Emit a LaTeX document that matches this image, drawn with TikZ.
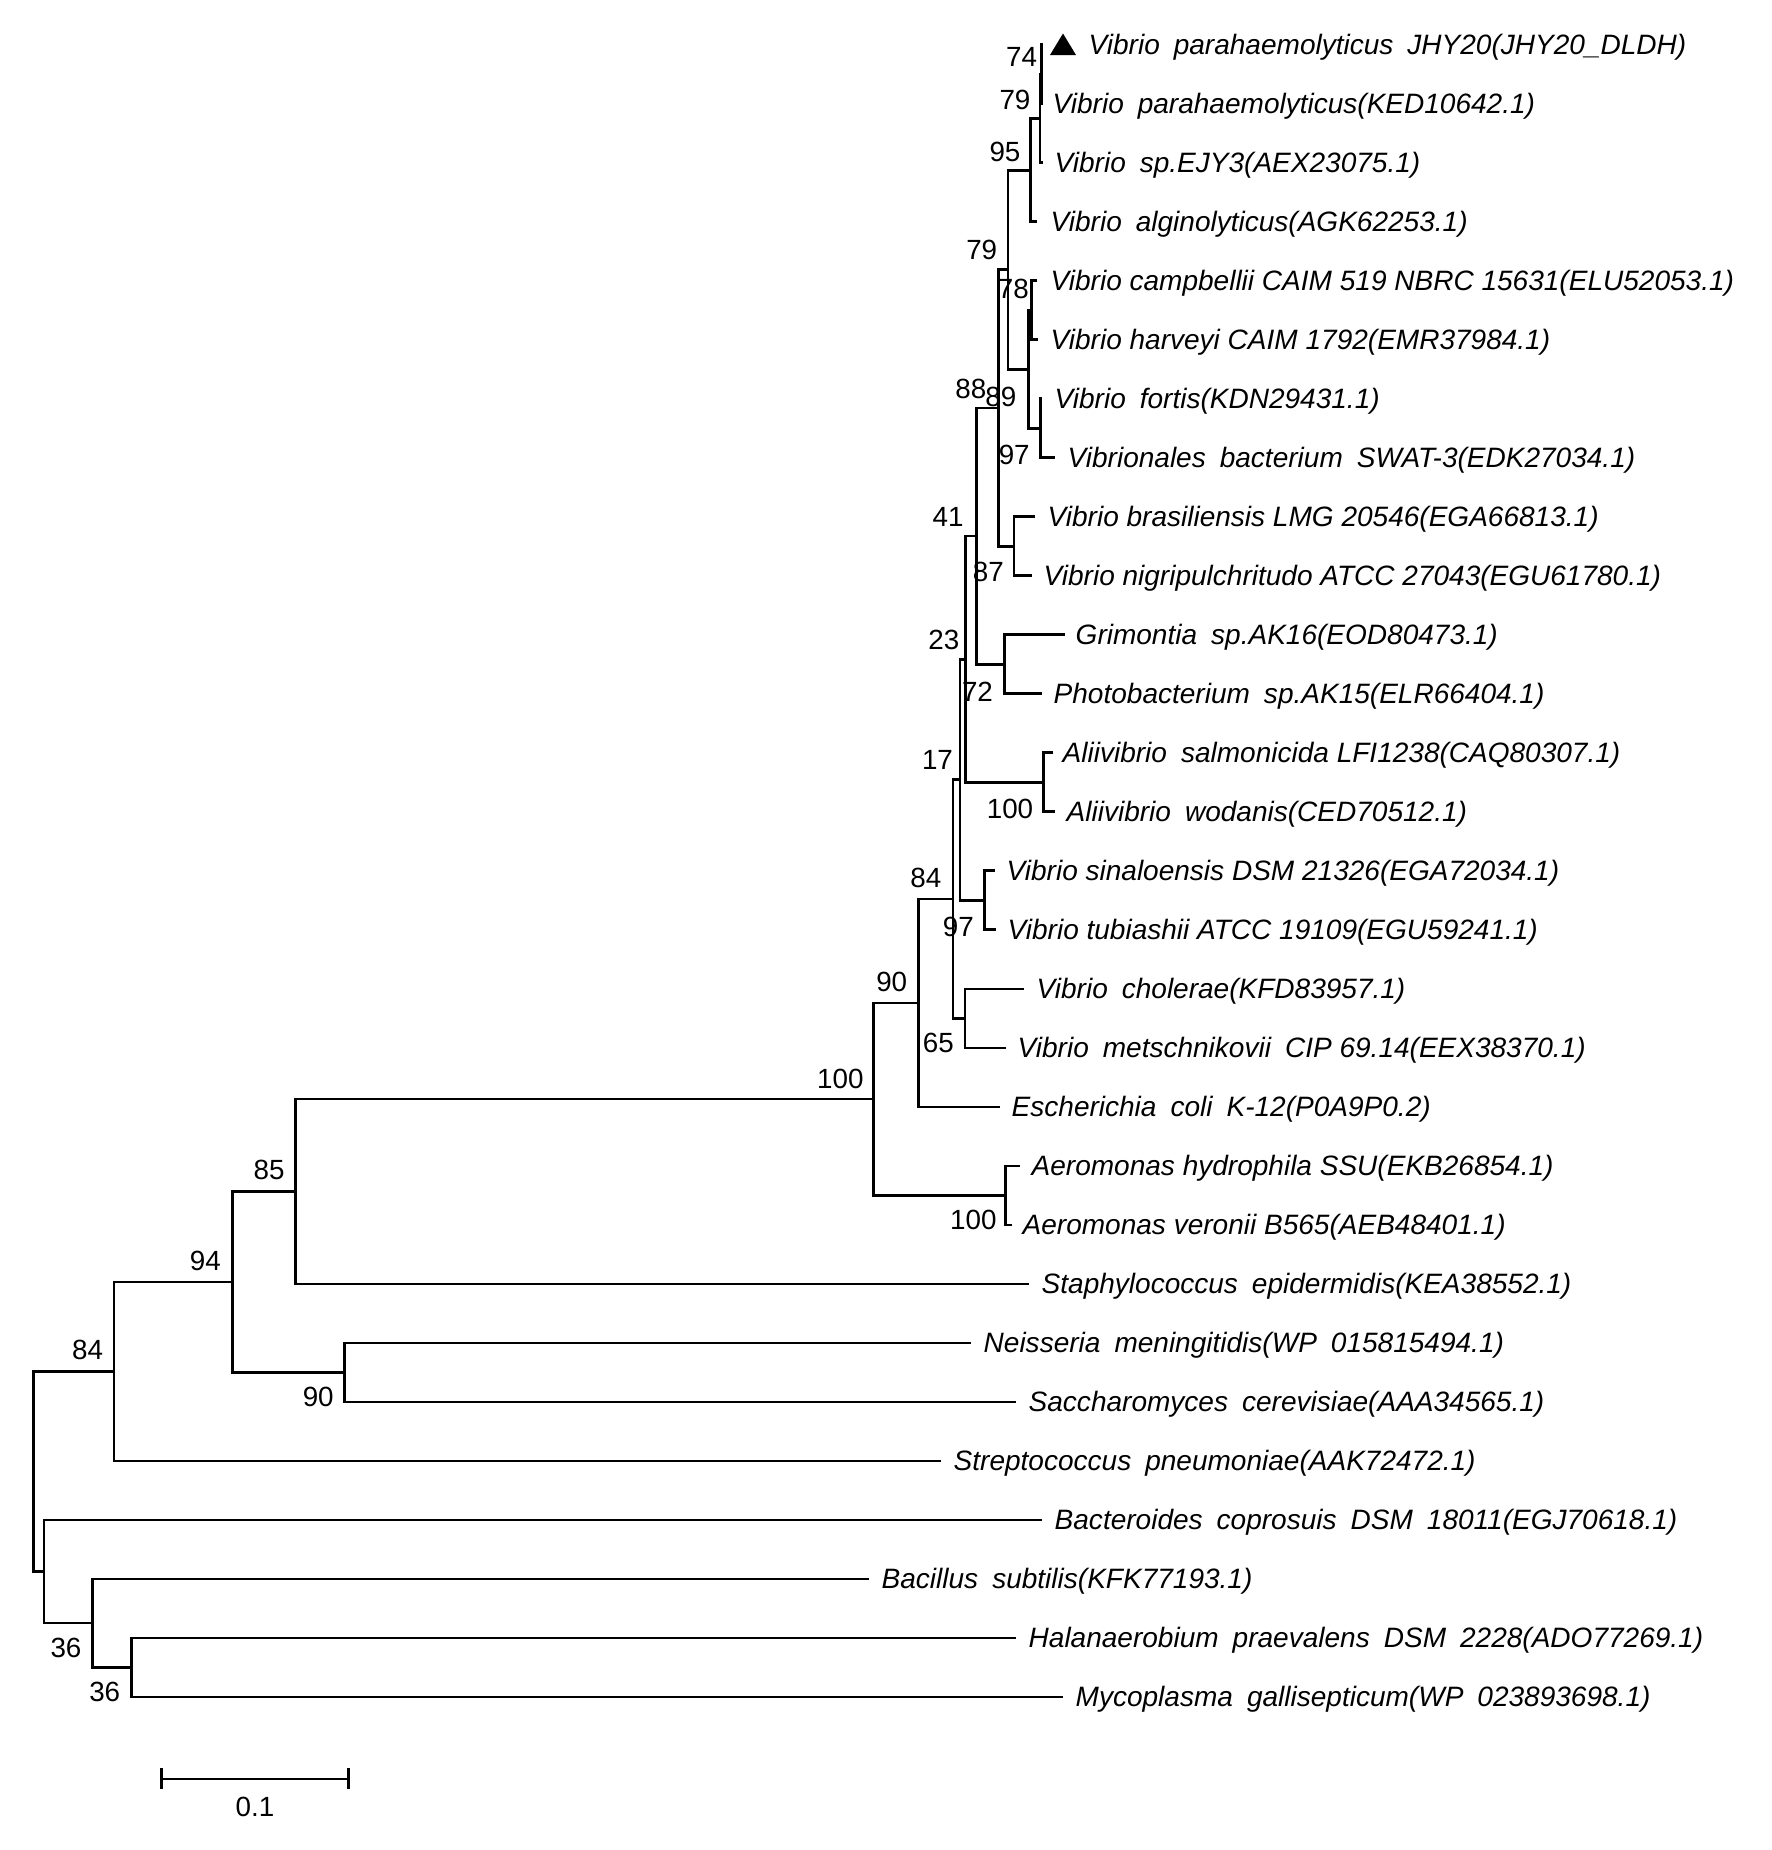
\documentclass[tikz,border=0pt]{standalone}
\usepackage{fontspec}
\setmainfont{Liberation Sans}
\newcommand{\dsp}{\hspace{0.5em}}
\begin{document}
\begin{tikzpicture}[x=0.01cm,y=-0.01cm,
  br/.style={line width=0.75pt, line join=miter},
  leaf/.style={anchor=base west, inner sep=0pt, yshift=-0.1cm, font=\fontsize{7.97}{9}\selectfont\itshape},
  num/.style={inner sep=0pt, font=\fontsize{7.9}{9}\selectfont}]
\useasboundingbox (0,0) rectangle (1772,1850);
% leaf tips
\coordinate (t1) at (1042,44.8);
\coordinate (t2) at (1042,103.8);
\coordinate (t3) at (1043,162.8);
\coordinate (t4) at (1037.3,221.8);
\coordinate (t5) at (1037.3,280.8);
\coordinate (t6) at (1038.3,339.8);
\coordinate (t7) at (1041.5,398.8);
\coordinate (t8) at (1055,457.8);
\coordinate (t9) at (1035,516.8);
\coordinate (t10) at (1031.7,575.8);
\coordinate (t11) at (1065,634.8);
\coordinate (t12) at (1041.7,693.8);
\coordinate (t13) at (1053.3,752.8);
\coordinate (t14) at (1055,811.8);
\coordinate (t15) at (995,870.8);
\coordinate (t16) at (996,929.8);
\coordinate (t17) at (1024,988.8);
\coordinate (t18) at (1005.7,1047.8);
\coordinate (t19) at (1000,1106.8);
\coordinate (t20) at (1020,1165.8);
\coordinate (t21) at (1012,1224.8);
\coordinate (t22) at (1028.6,1283.8);
\coordinate (t23) at (970.8,1342.8);
\coordinate (t24) at (1015.6,1401.8);
\coordinate (t25) at (941,1460.8);
\coordinate (t26) at (1041.6,1519.8);
\coordinate (t27) at (869.3,1578.8);
\coordinate (t28) at (1015.6,1637.8);
\coordinate (t29) at (1062.8,1696.8);
% internal nodes
\coordinate (n74) at (1041.5,74.3);
\coordinate (n79a) at (1040,118.55);
\coordinate (n95) at (1030.7,170.2);
\coordinate (n78) at (1031.7,310.3);
\coordinate (n97a) at (1040.7,428.3);
\coordinate (n89) at (1028.3,369.3);
\coordinate (n79b) at (1008,269.75);
\coordinate (n87) at (1014,546.3);
\coordinate (n88) at (998.3,408.0);
\coordinate (n72) at (1004.3,664.3);
\coordinate (n41) at (976.5,536.15);
\coordinate (n100a) at (1043.3,782.3);
\coordinate (n23) at (965.7,659.2);
\coordinate (n97b) at (984.3,900.3);
\coordinate (n17) at (960,779.75);
\coordinate (n65) at (965,1018.3);
\coordinate (n84a) at (953,899.0);
\coordinate (n90a) at (918.3,1002.9);
\coordinate (n100c) at (1005.7,1195.3);
\coordinate (n100b) at (873.5,1099.1);
\coordinate (n85) at (295.8,1191.45);
\coordinate (n90b) at (344.8,1372.3);
\coordinate (n94) at (232.3,1281.9);
\coordinate (n84b) at (114,1371.35);
\coordinate (n36b) at (131.6,1667.3);
\coordinate (n36a) at (92.6,1623.05);
\coordinate (nA) at (44,1571.4);
\coordinate (root) at (33.7,1471.4);
% branches
\draw[br] (t1) -| (n74) |- (t2);
\draw[br] (n74) -| (n79a) |- (t3);
\draw[br] (n79a) -| (n95) |- (t4);
\draw[br] (t5) -| (n78) |- (t6);
\draw[br] (t7) -| (n97a) |- (t8);
\draw[br] (n78) -| (n89) |- (n97a);
\draw[br] (n95) -| (n79b) |- (n89);
\draw[br] (t9) -| (n87) |- (t10);
\draw[br] (n79b) -| (n88) |- (n87);
\draw[br] (t11) -| (n72) |- (t12);
\draw[br] (n88) -| (n41) |- (n72);
\draw[br] (t13) -| (n100a) |- (t14);
\draw[br] (n41) -| (n23) |- (n100a);
\draw[br] (t15) -| (n97b) |- (t16);
\draw[br] (n23) -| (n17) |- (n97b);
\draw[br] (t17) -| (n65) |- (t18);
\draw[br] (n17) -| (n84a) |- (n65);
\draw[br] (n84a) -| (n90a) |- (t19);
\draw[br] (t20) -| (n100c) |- (t21);
\draw[br] (n90a) -| (n100b) |- (n100c);
\draw[br] (n100b) -| (n85) |- (t22);
\draw[br] (t23) -| (n90b) |- (t24);
\draw[br] (n85) -| (n94) |- (n90b);
\draw[br] (n94) -| (n84b) |- (t25);
\draw[br] (t28) -| (n36b) |- (t29);
\draw[br] (t27) -| (n36a) |- (n36b);
\draw[br] (t26) -| (nA) |- (n36a);
\draw[br] (n84b) -| (root) |- (nA);
% marker
\fill (1050,55) -- (1076,55) -- (1063,33.5) -- cycle;
% leaf labels
\node[leaf] (L1) at (1088,44.8) {Vibrio\dsp parahaemolyticus\dsp JHY20(JHY20\_DLDH)};
\node[leaf] (L2) at (1052,103.8) {Vibrio\dsp parahaemolyticus(KED10642.1)};
\node[leaf] (L3) at (1054,162.8) {Vibrio\dsp sp.EJY3(AEX23075.1)};
\node[leaf] (L4) at (1050,221.8) {Vibrio\dsp alginolyticus(AGK62253.1)};
\node[leaf] (L5) at (1050,280.8) {Vibrio campbellii CAIM 519 NBRC 15631(ELU52053.1)};
\node[leaf] (L6) at (1050,339.8) {Vibrio harveyi CAIM 1792(EMR37984.1)};
\node[leaf] (L7) at (1054,398.8) {Vibrio\dsp fortis(KDN29431.1)};
\node[leaf] (L8) at (1067,457.8) {Vibrionales\dsp bacterium\dsp SWAT-3(EDK27034.1)};
\node[leaf] (L9) at (1047,516.8) {Vibrio brasiliensis LMG 20546(EGA66813.1)};
\node[leaf] (L10) at (1043,575.8) {Vibrio nigripulchritudo ATCC 27043(EGU61780.1)};
\node[leaf] (L11) at (1075,634.8) {Grimontia\dsp sp.AK16(EOD80473.1)};
\node[leaf] (L12) at (1053,693.8) {Photobacterium\dsp sp.AK15(ELR66404.1)};
\node[leaf] (L13) at (1062,752.8) {Aliivibrio\dsp salmonicida LFI1238(CAQ80307.1)};
\node[leaf] (L14) at (1066,811.8) {Aliivibrio\dsp wodanis(CED70512.1)};
\node[leaf] (L15) at (1006,870.8) {Vibrio sinaloensis DSM 21326(EGA72034.1)};
\node[leaf] (L16) at (1007,929.8) {Vibrio tubiashii ATCC 19109(EGU59241.1)};
\node[leaf] (L17) at (1036,988.8) {Vibrio\dsp cholerae(KFD83957.1)};
\node[leaf] (L18) at (1017,1047.8) {Vibrio\dsp metschnikovii\dsp CIP 69.14(EEX38370.1)};
\node[leaf] (L19) at (1011,1106.8) {Escherichia\dsp coli\dsp K-12(P0A9P0.2)};
\node[leaf] (L20) at (1031,1165.8) {Aeromonas hydrophila SSU(EKB26854.1)};
\node[leaf] (L21) at (1022,1224.8) {Aeromonas veronii B565(AEB48401.1)};
\node[leaf] (L22) at (1041,1283.8) {Staphylococcus\dsp epidermidis(KEA38552.1)};
\node[leaf] (L23) at (983,1342.8) {Neisseria\dsp meningitidis(WP\dsp 015815494.1)};
\node[leaf] (L24) at (1028,1401.8) {Saccharomyces\dsp cerevisiae(AAA34565.1)};
\node[leaf] (L25) at (953,1460.8) {Streptococcus\dsp pneumoniae(AAK72472.1)};
\node[leaf] (L26) at (1054,1519.8) {Bacteroides\dsp coprosuis\dsp DSM\dsp 18011(EGJ70618.1)};
\node[leaf] (L27) at (881,1578.8) {Bacillus\dsp subtilis(KFK77193.1)};
\node[leaf] (L28) at (1028,1637.8) {Halanaerobium\dsp praevalens\dsp DSM\dsp 2228(ADO77269.1)};
\node[leaf] (L29) at (1075,1696.8) {Mycoplasma\dsp gallisepticum(WP\dsp 023893698.1)};
% bootstrap labels
\node[num] (b74) at (1021.5,56.7) {74};
\node[num] (b79a) at (1015,100) {79};
\node[num] (b95) at (1005,151.7) {95};
\node[num] (b79b) at (981.7,250) {79};
\node[num] (b78) at (1013.3,289) {78};
\node[num] (b88) at (970.8,389) {88};
\node[num] (b89) at (1000.8,396.7) {89};
\node[num] (b97a) at (1014.2,455) {97};
\node[num] (b41) at (948,516.7) {41};
\node[num] (b87) at (988.3,571.7) {87};
\node[num] (b23) at (943.8,640) {23};
\node[num] (b72) at (977.5,691.7) {72};
\node[num] (b17) at (937.5,760) {17};
\node[num] (b100a) at (1010,809) {100};
\node[num] (b84a) at (925.8,878.3) {84};
\node[num] (b97b) at (958.3,926.7) {97};
\node[num] (b90a) at (891.7,982.3) {90};
\node[num] (b65) at (938.3,1043.3) {65};
\node[num] (b100b) at (840.3,1079.3) {100};
\node[num] (b100c) at (973.3,1220) {100};
\node[num] (b85) at (269.2,1170) {85};
\node[num] (b94) at (205.3,1261) {94};
\node[num] (b84b) at (87.6,1350) {84};
\node[num] (b90b) at (318.2,1396.7) {90};
\node[num] (b36a) at (66,1647.7) {36};
\node[num] (b36b) at (104.7,1691.7) {36};
% scale bar
\coordinate (s1) at (161.5,1779);
\coordinate (s2) at (348.3,1779);
\coordinate (s1a) at (161.5,1768);
\coordinate (s1b) at (161.5,1789);
\coordinate (s2a) at (348.3,1768);
\coordinate (s2b) at (348.3,1789);
\draw[br] (s1) -- (s2);
\draw[br] (s1a) -- (s1b);
\draw[br] (s2a) -- (s2b);
\node[num] (sbl) at (254.9,1806.7) {0.1};
\end{tikzpicture}
\end{document}
